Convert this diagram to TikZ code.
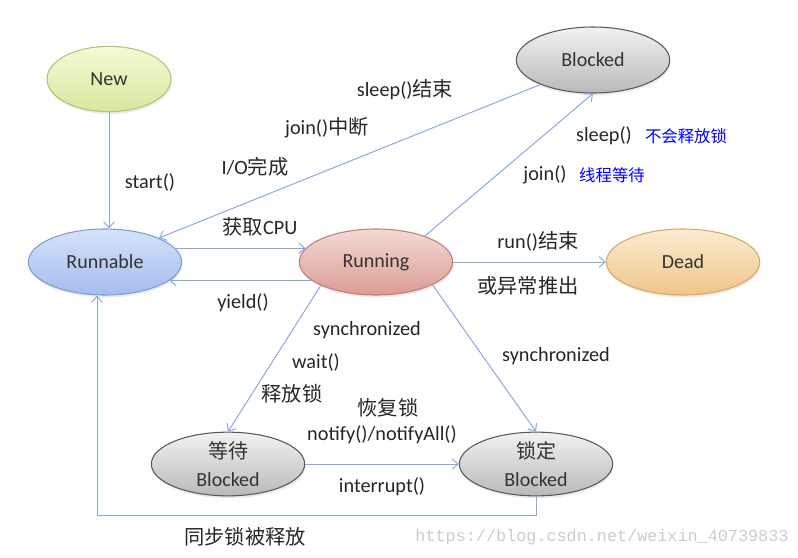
\documentclass[tikz,border=0pt]{standalone}
\usepackage{fontspec}
\setmainfont{Carlito}
\newfontfamily\zh{Noto Sans CJK SC}
\setmonofont{Liberation Mono}
\usetikzlibrary{shapes.geometric,arrows.meta,shadows}

\definecolor{lineaazul}{HTML}{8CA8DA}
\definecolor{grisborde}{HTML}{5A5A5A}
\definecolor{grisarriba}{HTML}{F2F2F2}
\definecolor{grisabajo}{HTML}{B9B9B9}

\tikzset{
  estado/.style={ellipse, minimum width=115pt, minimum height=49.5pt, inner sep=0pt,
    line width=0.8pt, text=black!80, font=\fontsize{15}{21}\selectfont, align=center,
    drop shadow={opacity=0.16, shadow xshift=0.6pt, shadow yshift=-1.8pt}},
  bloqueo/.style={estado, draw=grisborde, top color=grisarriba, bottom color=grisabajo},
  flecha/.style={draw=lineaazul, line width=0.75pt, -{Straight Barb[length=4.5pt,width=8pt]}},
  etiq/.style={font=\fontsize{15.2}{18}\selectfont, text=black!85, inner sep=1pt},
  nota/.style={font=\fontsize{12.3}{15}\selectfont, text=blue, inner sep=1pt}
}

\begin{document}
\begin{tikzpicture}[x=0.75pt, y=-0.75pt]
    \useasboundingbox (0,0) rectangle (798,557);

    % Define los estados
    \node[estado, minimum width=93pt, minimum height=49pt, draw={rgb,255:red,176;green,196;blue,122},
      top color={rgb,255:red,244;green,250;blue,214}, bottom color={rgb,255:red,214;green,232;blue,158}] (new) at (109,79) {New};
    \node[bloqueo] (blocked) at (593,60) {Blocked};
    \node[estado, draw={rgb,255:red,126;green,157;blue,213},
      top color={rgb,255:red,214;green,226;blue,249}, bottom color={rgb,255:red,164;green,189;blue,238}] (runnable) at (105,262) {Runnable};
    \node[estado, draw={rgb,255:red,190;green,128;blue,121},
      top color={rgb,255:red,245;green,218;blue,213}, bottom color={rgb,255:red,218;green,156;blue,148}] (running) at (376,262) {Running};
    \node[estado, draw={rgb,255:red,217;green,168;blue,101},
      top color={rgb,255:red,252;green,236;blue,210}, bottom color={rgb,255:red,239;green,197;blue,137}] (dead) at (683,262) {Dead};
    \node[bloqueo, minimum height=45pt] (waiting) at (228,464) {{\zh 等待}\\Blocked};
    \node[bloqueo, minimum height=45pt] (locked) at (536,464) {{\zh 锁定}\\Blocked};

    % Dibuja las transiciones
    \draw[flecha] (new.south) -- (new.south |- runnable.north);
    \draw[flecha] (runnable.11) -- (running.169);
    \draw[flecha] (running.196) -- (runnable.-16);
    \draw[flecha] (blocked.205) -- (runnable.24);
    \draw[flecha] (running.28) -- (blocked.south);
    \draw[flecha] (running.east) -- (dead.west);
    \draw[flecha] (running.203) -- (waiting.north);
    \draw[flecha] (running.-22) -- (locked.north);
    \draw[flecha] (waiting.east) -- (locked.west);

    % Dibuja la vuelta desde el bloqueo
    \coordinate (esquina) at (97,515);
    \draw[flecha] (locked.south) |- (esquina) -- (esquina |- runnable.south);

    % Dibuja las etiquetas
    \node[etiq] (lstart) at (150,182) {start()};
    \node[etiq] (lio) at (255,167) {I/O{\zh 完成}};
    \node[etiq] (ljoinint) at (327,128) {join(){\zh 中断}};
    \node[etiq] (lsleepend) at (405,90) {sleep(){\zh 结束}};
    \node[etiq] (lcpu) at (260,227) {{\zh 获取}CPU};
    \node[etiq] (lyield) at (243,303) {yield()};
    \node[etiq] (lsleep) at (604,136) {sleep()};
    \node[nota] (nsleep) at (686,136) {\zh 不会释放锁};
    \node[etiq] (ljoin) at (545,175) {join()};
    \node[nota] (njoin) at (612,175) {\zh 线程等待};
    \node[etiq] (lrun) at (538,241) {run(){\zh 结束}};
    \node[etiq] (lexc) at (528,286) {\zh 或异常推出};
    \node[etiq] (lsync) at (367,330) {synchronized};
    \node[etiq] (lwait) at (316,362) {wait()};
    \node[etiq] (lrelease) at (292,394) {\zh 释放锁};
    \node[etiq] (lsynclock) at (556,356) {synchronized};
    \node[etiq] (lrestore) at (388,408) {\zh 恢复锁};
    \node[etiq] (lnotify) at (382,435) {notify()/notifyAll()};
    \node[etiq] (linterrupt) at (382,487) {interrupt()};
    \node[etiq] (lfree) at (245,537) {\zh 同步锁被释放};

    % Marca de agua
    \node[font=\ttfamily\fontsize{12.6}{15}\selectfont, text=black!20, inner sep=0pt] (marca) at (602,537) {https://blog.csdn.net/weixin\_40739833};
\end{tikzpicture}
\end{document}
